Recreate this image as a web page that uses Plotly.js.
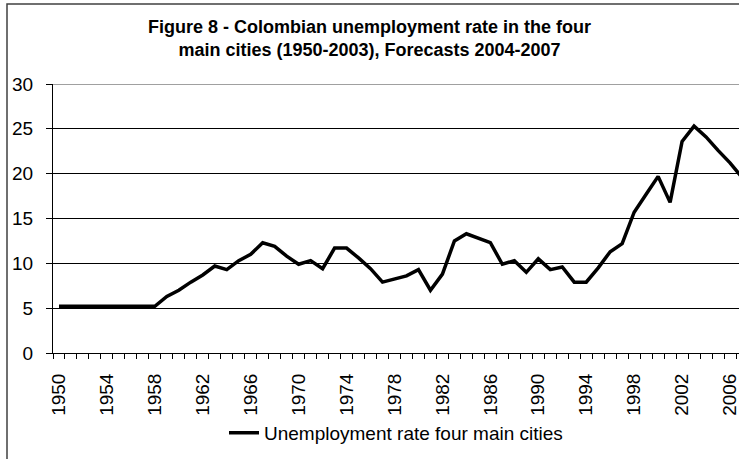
<!DOCTYPE html>
<html>
<head>
<meta charset="utf-8">
<script src="https://cdn.plot.ly/plotly-3.0.1.min.js"></script>
<style>html,body{margin:0;padding:0;background:#fff;}#chart{width:739px;height:459px;}</style>
</head>
<body>
<div id="chart"></div>
<script>
const years = [1950,1951,1952,1953,1954,1955,1956,1957,1958,1959,
  1960,1961,1962,1963,1964,1965,1966,1967,1968,1969,
  1970,1971,1972,1973,1974,1975,1976,1977,1978,1979,
  1980,1981,1982,1983,1984,1985,1986,1987,1988,1989,
  1990,1991,1992,1993,1994,1995,1996,1997,1998,1999,
  2000,2001,2002,2003,2004,2005,2006,2007];
const unemploymentRate = [5.2,5.2,5.2,5.2,5.2,5.2,5.2,5.2,5.2,6.3,
  7.0,7.9,8.7,9.7,9.3,10.3,11.0,12.3,11.9,10.8,
  9.9,10.3,9.4,11.7,11.7,10.6,9.4,7.9,8.3,8.6,
  9.3,7.0,8.8,12.5,13.3,12.8,12.3,9.9,10.3,9.0,
  10.5,9.3,9.6,7.9,7.9,9.5,11.3,12.2,15.7,17.7,
  19.7,16.8,23.6,25.3,24.1,22.6,21.2,19.6];
const xTickLabels = [1950,1954,1958,1962,1966,1970,1974,1978,1982,1986,1990,1994,1998,2002,2006];
const yTicks = [0,5,10,15,20,25,30];
const seriesName = 'Unemployment rate four main cities';
const titleText = 'Figure 8 - Colombian unemployment rate in the four<br>main cities (1950-2003), Forecasts 2004-2007';

const FONT = 'Liberation Sans, Arial, sans-serif';

const trace = {
  x: years, y: unemploymentRate, type: 'scatter', mode: 'lines', name: seriesName,
  line: {color: '#000000', width: 3.5}, showlegend: true
};

const layout = {
  width: 739, height: 459,
  paper_bgcolor: '#ffffff', plot_bgcolor: '#ffffff',
  margin: {l: 53, r: 0, t: 84, b: 106, pad: 0},
  font: {family: FONT, color: '#000000', size: 19},
  title: {
    text: titleText, font: {family: FONT, size: 18, color: '#000000', weight: 'bold'},
    xref: 'container', x: 0.5, xanchor: 'center',
    yref: 'container', y: 1 - 33/459, yanchor: 'middle'
  },
  xaxis: {
    range: [1949.5, 2006.75],
    tickmode: 'array', tickvals: xTickLabels, ticktext: xTickLabels.map(String),
    tickangle: -90, ticks: '', ticklabelstandoff: 12, ticklabeloverflow: 'allow',
    tickfont: {family: FONT, size: 19, color: '#000'},
    showgrid: false, zeroline: false,
    showline: true, linecolor: '#000000', linewidth: 1,
    minor: {tickmode: 'linear', tick0: 1949.5, dtick: 1, ticks: 'outside', ticklen: 5, tickwidth: 1, tickcolor: '#000', showgrid: false}
  },
  yaxis: {
    range: [0, 30], tickmode: 'array', tickvals: yTicks,
    ticks: 'outside', ticklen: 6, tickwidth: 1, tickcolor: '#000',
    ticklabelstandoff: 9,
    tickfont: {family: FONT, size: 19, color: '#000'},
    showgrid: true, gridcolor: '#000000', gridwidth: 1,
    zeroline: false, showline: true, linecolor: '#000000', linewidth: 1
  },
  legend: {
    orientation: 'h', x: 0.5, xanchor: 'center', y: -0.297, yanchor: 'middle',
    font: {family: FONT, size: 19, color: '#000'}, bgcolor: 'rgba(0,0,0,0)'
  },
  shapes: [
    {type: 'line', xref: 'paper', yref: 'y', x0: 0, x1: 1, y0: 30, y1: 30,
     line: {color: '#808080', width: 1.5}, layer: 'above'},
    {type: 'rect', xref: 'paper', yref: 'paper',
     x0: (7 - 53)/686, x1: 1.05, y0: -0.45, y1: (353 - 4)/269,
     line: {color: '#404040', width: 1.5}, fillcolor: 'rgba(0,0,0,0)', layer: 'below'}
  ]
};

Plotly.newPlot('chart', [trace], layout, {displayModeBar: false, staticPlot: true});
</script>
</body>
</html>
